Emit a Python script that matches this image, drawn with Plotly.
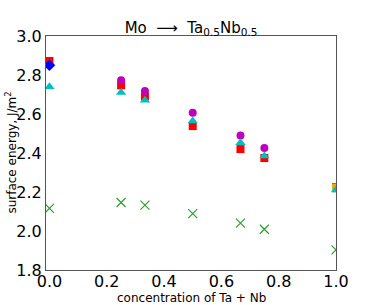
import plotly.graph_objects as go

x_all = [0.0, 0.25, 1/3, 0.5, 2/3, 0.75, 1.0]
red_sq = [2.872, 2.747, 2.690, 2.538, 2.420, 2.374, 2.225]
mag_circ_x = [0.25, 1/3, 0.5, 2/3, 0.75]
mag_circ = [2.773, 2.718, 2.607, 2.490, 2.426]
cyan_tri = [2.740, 2.710, 2.670, 2.564, 2.453, 2.385, 2.210]
blue_x = [0.0]
blue_dia = [2.850]
green_x = [2.116, 2.146, 2.133, 2.089, 2.040, 2.009, 1.903]
orange_x = [1.0]
orange_v = [2.222]
yellow_x = [1.0]
yellow_v = [2.216]

xticks = [0.0, 0.2, 0.4, 0.6, 0.8, 1.0]
yticks = [1.8, 2.0, 2.2, 2.4, 2.6, 2.8, 3.0]

fig = go.Figure()
fig.add_trace(go.Scatter(x=x_all, y=green_x, mode="markers",
                         marker=dict(symbol="x-thin", size=9, line=dict(color="#2ca02c", width=1.2), color="#2ca02c")))
fig.add_trace(go.Scatter(x=x_all, y=red_sq, mode="markers",
                         marker=dict(symbol="square", size=8, color="red")))
fig.add_trace(go.Scatter(x=orange_x, y=orange_v, mode="markers",
                         marker=dict(symbol="square", size=8, color="orange")))
fig.add_trace(go.Scatter(x=yellow_x, y=yellow_v, mode="markers",
                         marker=dict(symbol="square", size=7, color="#bcbd22")))
fig.add_trace(go.Scatter(x=mag_circ_x, y=mag_circ, mode="markers",
                         marker=dict(symbol="circle", size=8, color="#bf00bf")))
fig.add_trace(go.Scatter(x=x_all, y=cyan_tri, mode="markers",
                         marker=dict(symbol="triangle-up", size=9, color="#00bfbf")))
fig.add_trace(go.Scatter(x=blue_x, y=blue_dia, mode="markers",
                         marker=dict(symbol="diamond", size=9, color="blue")))

fig.update_layout(
    width=374, height=305,
    margin=dict(l=46, r=38, t=36, b=35, autoexpand=False),
    paper_bgcolor="white", plot_bgcolor="white",
    showlegend=False,
    font=dict(family="DejaVu Sans", color="black"),
    title=dict(text="Mo  \u27f6  Ta<sub>0.5</sub>Nb<sub>0.5</sub>", x=0.5, xref="paper",
               y=1, yref="paper", yanchor="bottom", pad=dict(b=3),
               font=dict(size=15, family="DejaVu Sans")),
    annotations=[
        dict(text="concentration of Ta + Nb", xref="paper", yref="paper", x=0.5, y=-0.152,
             xanchor="center", yanchor="bottom", showarrow=False, font=dict(size=12), borderpad=0),
        dict(text="surface energy, J/m<sup>2</sup>", xref="paper", yref="paper", x=-0.122, y=0.5,
             xanchor="center", yanchor="middle", textangle=-90, showarrow=False, font=dict(size=12)),
    ],
)
fig.update_xaxes(range=[-0.012, 1.0], tickvals=xticks, ticktext=[f"{v:.1f}" for v in xticks],
                 showgrid=False, zeroline=False, showline=True, linecolor="#555", linewidth=1.2,
                 mirror=True, ticks="", automargin=False, ticklabelstandoff=-3,
                 tickfont=dict(size=16))
fig.update_yaxes(range=[1.8, 3.0], tickvals=yticks, ticktext=[f"{v:.1f}" for v in yticks],
                 showgrid=False, zeroline=False, showline=True, linecolor="#555", linewidth=1.2,
                 mirror=True, ticks="", automargin=False,
                 tickfont=dict(size=16))

fig.write_html("out.html", config={"displayModeBar": False},
               post_script="document.body.style.margin='0';")
